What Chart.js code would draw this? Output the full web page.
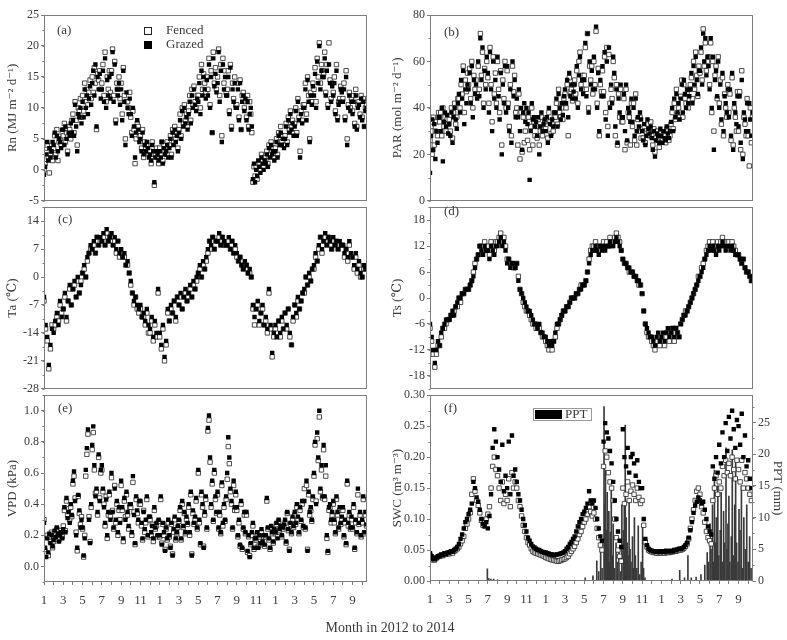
<!DOCTYPE html>
<html>
<head>
<meta charset="utf-8">
<script src="https://cdn.jsdelivr.net/npm/chart.js@4.4.1/dist/chart.umd.min.js"></script>
<style>
html,body{margin:0;padding:0;background:#fff;}
#wrap{position:relative;width:787px;height:640px;overflow:hidden;background:#fff;}
#wrap canvas{position:absolute;}
#xtitle{position:absolute;left:0;top:620px;width:780px;text-align:center;font-size:14px;font-family:'Liberation Serif','DejaVu Serif',serif;color:#3a3a3a;}
</style>
</head>
<body>
<div id="wrap">
<canvas id="ca" width="372" height="210" style="left:0;top:0"></canvas>
<canvas id="cb" width="372" height="210" style="left:386px;top:0"></canvas>
<canvas id="cc" width="372" height="200" style="left:0;top:198px"></canvas>
<canvas id="cd" width="372" height="200" style="left:386px;top:198px"></canvas>
<canvas id="ce" width="372" height="254" style="left:0;top:386px"></canvas>
<canvas id="cf" width="401" height="254" style="left:386px;top:386px"></canvas>
<div id="xtitle">Month in 2012 to 2014</div>
</div>
<script>
// ---------------- data (months from 1 Jan 2012) ----------------
const STEP = 1 / 6;        // Ta, Ts, SWC sampled every 1/6 month (~5 days)
const STEP_DENSE = 1 / 9;  // Rn, PAR, VPD sampled every 1/9 month (~3.4 days)
const X_MAX = 33.5;
const monthTickLabels = ['1','2','3','4','5','6','7','8','9','10','11','12'];
const rnTicks = [-5, 0, 5, 10, 15, 20, 25];
const parTicks = [0, 20, 40, 60, 80];
const taTicks = [-28, -21, -14, -7, 0, 7, 14];
const tsTicks = [-18, -12, -6, 0, 6, 12, 18];
const vpdTicks = [0, 0.2, 0.4, 0.6, 0.8, 1.0];
const swcTicks = [0, 0.05, 0.10, 0.15, 0.20, 0.25, 0.30];
const pptTicks = [0, 5, 10, 15, 20, 25];

const rnGrazed = [-0.8,0.5,2.5,4.5,1.5,3.5,2,3,4.5, 4,6,2,5.5,3,5,4.5,3.5,6.5, 6.5,4,7,5,2.5,6,5.5,7.5,6, 8,5.5,10.5,7,3,9,8.5,10,7.5, 11,8.5,13,10,12,9,11.5,13.5,10.5, 14,16,12,17,7,15,13,15.5,11.5, 13,16,11,18,10,14.5,12,15,11.5, 15.5,19,11,17,7.5,13,12,14,10.5, 13,8,16,11,4,12.5,10,9,11.5, 9,5.5,10,7,2,6,8,6.5,4.5, 5,3,6,2.5,4,3,4.5,3.5,2, 2.5,1.5,4,3,-2,2,3,2.5,1.5, 3,2,4.5,1,3.5,2.5,3,4,2, 3.5,5,2,6,4,6.5,4.5,5.5,3, 6,8,5,9.5,7,10,7.5,8.5,6.5, 9,11,7.5,12,10,13,10.5,9.5,11.5, 11,14,9,16,12,15,13,11.5,14.5, 12,17,10,15,6,18,13.5,15.5,12.5, 14,19,11,16,4.5,17,13,15,12, 12,15,9,16.5,6.5,13,11,14,10, 10,13,8,14,6.5,11,12,9.5,11.5, 8,11,6.5,9,10,7,-1.5,1,-2, 0,-1,1.5,0.5,-0.5,2,1,0,1.5, 1,2.5,0.5,3.5,2,4,2.5,3,1.5, 3,4.5,2,5.5,4,6,4,5,3.5, 5,7,4,8,6,9,6.5,7.5,5.5, 7,9.5,5.5,11,8,2,9,7.5,10, 10,13,8,14.5,11,4.5,12,10.5,13.5, 12,15.5,10,17.5,14,20,13,16,15, 15,18,12,16,10,17,14,11,13.5, 12,14,9,16,8,10.5,11,13,12.5, 11,13,8,15,4,10,12,9.5,11, 9,11,7,12,6.5,10,10.5,8.5,11.5, 8,11,7,9.5,10];
const rnFenced = [0,1,3.5,4,2,-0.5,2.5,3,1.5, 3.5,5.5,2.5,6.5,1.5,4.5,5,4,6, 5.5,7.5,4.5,6,3,7,6.5,5,8, 9,6,11,8,4,10,9.5,11.5,8.5, 12,9.5,14,11,13,10.5,12.5,14.5,11.5, 15,12.5,16.5,14,6.5,15.5,14.5,16,13, 14,17,12,19,11,15,13,16,12.5, 16,19.5,12,17.5,8,14,13,15,11.5, 14,9,16.5,12,5,11,11,10,12.5, 8.5,6,9.5,6.5,1,5,7.5,7,5.5, 5.5,3.5,6.5,2,4.5,3.5,4,3,2.5, 3,1,4.5,2.5,-2.5,2.5,3.5,2,1, 3.5,2.5,4.5,1.5,4,3,2.5,4.5,2.5, 4,5.5,2.5,6.5,4.5,7,5,6,3.5, 6.5,9,5.5,10,7.5,10.5,8,9,7, 9.5,12,8,13,10.5,13.5,11,10,12, 12,15,10,17,13,15.5,14,12.5,15, 13,18,10.5,16,6,19,14,16.5,13, 15,19.5,12,17,5.5,18,14,16,12.5, 13,16,9.5,17,7,14,11.5,15,10.5, 10.5,14,8.5,14.5,6.5,12,12.5,10,11, 8.5,12,7,11,9,6,-2,0.5,-1, 0.5,-1.5,1,1,0,2.5,1.5,0.5,2, 1.5,3,1,4,2.5,4.5,3,3.5,2, 3.5,5,2.5,6,4.5,7,4.5,5.5,4, 5.5,7.5,4.5,8.5,6.5,9.5,7,8,6, 7.5,10,6,11.5,8.5,3,9.5,8,10.5, 10.5,14,9,15,12,5,12.5,11,14, 13,16.5,11,18,15,20.5,14,17,16, 15.5,19,12.5,17,10.5,20.5,14.5,11.5,14, 12.5,15,9.5,17,8.5,11,11.5,13.5,13, 11.5,14,8.5,16,5,10.5,12.5,10,11.5, 9.5,12,7.5,13,7,10.5,11,9,12, 8.5,11.5,7,10,10.5];

const parGrazed = [12,28,35,22,33,18,30,25,36, 36,30,40,17,34,38,32,37,29, 33,28,38,25,36,40,35,31,42, 46,38,52,44,56,33,48,42,50, 48,55,42,58,36,52,46,50,44, 60,45,70,52,66,40,56,48,62, 55,38,64,48,30,60,44,52,40, 62,45,35,55,20,50,42,58,38, 58,40,30,48,25,60,45,52,36, 44,36,48,30,40,22,38,42,34, 40,33,38,9,30,42,35,36,32, 34,28,36,20,32,38,30,33,35, 30,36,25,40,33,28,35,32,38, 38,44,32,46,40,35,42,37,45, 48,42,52,36,55,45,50,44,47, 50,44,58,40,54,62,48,52,46, 52,68,45,72,38,60,50,56,48, 62,48,75,40,55,30,52,45,58, 45,64,35,60,28,66,40,50,42, 62,55,32,48,25,44,38,50,36, 36,46,30,50,26,40,38,34,44, 34,40,28,44,30,36,32,38,35, 30,26,33,24,28,35,31,29,32, 27,22,30,19,26,29,28,25,31, 28,25,30,27,26,32,29,27,30, 34,40,30,44,36,46,38,42,35, 44,50,38,52,46,40,48,42,45, 48,55,42,58,50,62,52,46,56, 56,66,50,72,60,70,54,62,58, 48,70,40,62,22,52,56,45,60, 40,50,35,55,30,45,42,38,48, 36,48,28,55,22,42,38,33,45, 32,45,25,52,18,38,35,30,42, 30,42,35,28,38];
const parFenced = [26,32,20,36,24,30,34,28,38, 34,38,28,40,32,36,30,35,33, 35,30,40,27,38,42,33,36,44, 44,40,50,46,58,38,52,47,55, 50,57,44,60,40,54,48,52,46, 58,48,72,54,64,42,57,50,60, 53,42,66,50,34,62,46,55,42, 60,48,38,56,24,52,44,60,40, 56,42,32,50,28,58,47,54,38, 40,24,46,18,38,21,36,25,30, 38,26,36,22,32,40,24,34,28, 32,27,35,24,30,36,28,31,34, 31,35,27,38,34,29,33,30,36, 36,42,33,48,38,36,40,35,44, 46,40,50,28,53,47,48,43,50, 52,46,56,42,60,64,50,54,48, 54,66,48,72,40,58,52,58,46, 60,50,73,42,57,28,50,47,56, 47,62,38,66,32,63,42,48,44, 60,53,28,50,24,46,36,48,34, 34,44,22,48,25,38,36,24,42, 32,42,26,46,24,35,30,36,27, 31,27,32,25,29,33,30,28,34, 28,24,31,21,27,30,26,23,29, 27,26,29,28,25,31,30,26,28, 33,38,31,42,35,48,37,40,36, 45,52,36,50,44,42,46,40,48, 50,53,44,60,48,64,54,45,58, 55,64,52,74,58,68,56,60,62, 50,68,38,60,30,54,58,44,62, 42,52,33,53,28,46,40,36,50, 38,46,26,53,24,40,36,30,47, 30,47,22,56,20,36,33,28,44, 28,15,40,25,36];

const taGrazed = [-5,-12,-15,-22,-17,-13, -14,-11,-9,-12,-6,-10, -8,-4,-10,-6,-2,-7, -3,-1,-5,0,-4,-2, 1,3,0,5,6,8, 7,9,6,10,8,10, 9,11,8,12,9,10, 11,8,10,7,9,6, 7,5,6,3,4,1, -1,-4,-6,-5,-7,-8, -7,-10,-9,-11,-8,-12, -13,-10,-15,-11,-14,-3, -14,-17,-12,-20,-16,-8, -11,-7,-9,-6,-10,-5, -7,-4,-8,-5,-3,-6, -4,-2,-5,-1,-3,0, 1,3,0,4,2,5, 7,9,8,10,7,9, 9,11,8,10,9,8, 8,10,7,9,6,8, 6,4,5,3,2,4, 3,1,2,0,-7,-10, -8,-6,-11,-9,-7,-12, -10,-13,-3,-12,-19,-14, -12,-15,-11,-14,-10,-13, -9,-12,-8,-14,-17,-10, -7,-9,-5,-8,-6,-4, -3,0,-2,1,-1,2, 3,6,4,8,10,7, 9,11,8,10,9,7, 10,8,9,7,9,8, 8,6,7,5,9,6, 5,3,6,2,4,1, 0,3,2];
const taFenced = [-6,-13,-16,-23,-18,-12, -13,-12,-10,-11,-7,-9, -8,-5,-11,-6,-3,-7, -3,-2,-5,-1,-4,-1, 1,2,0,4,6,7, 7,8,6,10,8,9, 9,10,8,11,9,10, 10,8,9,6,9,5, 6,5,5,3,3,1, -2,-4,-7,-5,-8,-9, -8,-10,-10,-12,-9,-14, -14,-11,-16,-12,-15,-4, -15,-18,-13,-21,-17,-9, -11,-8,-9,-6,-11,-5, -7,-5,-8,-5,-4,-6, -4,-3,-5,-2,-3,-1, 1,2,0,3,2,4, 6,9,7,10,7,9, 9,10,8,10,8,8, 8,9,7,9,6,7, 5,4,5,3,2,3, 3,1,1,0,-8,-12, -8,-7,-12,-9,-8,-12, -11,-14,-4,-13,-20,-15, -13,-15,-11,-15,-11,-13, -9,-13,-8,-15,-17,-11, -7,-10,-6,-8,-6,-4, -4,0,-2,0,-1,2, 2,5,4,7,10,6, 9,10,8,10,9,7, 9,8,9,7,8,8, 8,5,7,4,8,5, 5,2,5,1,3,0, 0,2,2];

const tsGrazed = [-6,-9,-12,-15,-12,-10, -11,-8,-7,-6,-5,-5, -5,-4,-3,-4,-2,-1, 0,0,1,1,2,2, 2,3,4,5,7,9, 10,12,11,10,12,11, 11,9,12,11,10,12, 12,13,14,12,13,11, 8,9,7,8,8,7, 8,4,2,1,0,-1, -2,-3,-3,-4,-5,-6, -6,-7,-6,-8,-8,-9, -9,-10,-11,-10,-11,-10, -8,-6,-6,-5,-4,-3, -3,-2,-2,-1,0,0, 0,1,1,2,2,3, 3,4,6,8,10,11, 11,12,11,10,12,11, 12,11,12,12,13,12, 12,13,14,13,12,11, 9,8,8,7,7,6, 6,5,5,4,4,3, 1,-3,-6,-7,-8,-9, -9,-10,-11,-9,-8,-10, -9,-8,-10,-8,-7,-9, -8,-7,-9,-7,-8,-9, -6,-5,-4,-4,-3,-2, -1,0,1,2,3,4, 5,6,7,9,10,11, 12,11,12,11,10,12, 11,12,13,12,11,12, 12,11,12,11,10,10, 10,9,8,9,7,6, 6,5,4];
const tsFenced = [-7,-10,-13,-16,-13,-11, -11,-9,-7,-7,-6,-5, -5,-4,-4,-3,-2,-2, 0,-1,1,1,2,2, 2,3,4,6,8,9, 10,12,12,11,13,11, 12,10,13,12,11,13, 13,14,15,13,14,12, 9,9,8,8,7,7, 8,5,2,1,-1,-2, -3,-3,-4,-5,-6,-6, -7,-7,-7,-8,-9,-9, -10,-11,-12,-11,-12,-10, -9,-7,-6,-5,-4,-3, -3,-2,-2,-1,0,0, 0,1,1,2,3,3, 3,4,6,9,11,12, 12,13,12,11,12,12, 13,12,13,12,14,13, 13,14,15,14,13,11, 9,8,8,7,6,6, 6,5,5,4,3,3, 1,-3,-6,-8,-9,-9, -10,-11,-12,-10,-9,-11, -10,-9,-11,-9,-8,-10, -8,-7,-10,-7,-8,-9, -6,-5,-4,-3,-3,-2, -1,0,1,2,3,5, 5,7,8,9,11,12, 13,12,13,12,11,13, 12,13,14,13,12,13, 13,12,13,12,11,10, 10,9,8,9,7,6, 6,5,4];

const vpdGrazed = [0.28,0.12,0.06,0.18,0.09,0.21,0.15,0.2,0.13, 0.17,0.23,0.19,0.25,0.21,0.16,0.2,0.22,0.18, 0.24,0.38,0.22,0.44,0.31,0.35,0.28,0.4,0.33, 0.55,0.61,0.42,0.2,0.12,0.46,0.36,0.25,0.3, 0.25,0.07,0.18,0.62,0.76,0.88,0.3,0.15,0.4, 0.78,0.9,0.65,0.45,0.5,0.35,0.72,0.42,0.62, 0.65,0.5,0.38,0.28,0.43,0.2,0.35,0.48,0.3, 0.6,0.35,0.25,0.5,0.3,0.42,0.22,0.38,0.28, 0.55,0.38,0.18,0.44,0.3,0.48,0.35,0.26,0.4, 0.4,0.22,0.58,0.33,0.15,0.45,0.36,0.3,0.42, 0.42,0.28,0.18,0.35,0.24,0.3,0.45,0.2,0.32, 0.32,0.22,0.26,0.18,0.38,0.25,0.28,0.2,0.3, 0.2,0.45,0.14,0.28,0.22,0.1,0.25,0.18,0.3, 0.2,0.12,0.28,0.07,0.24,0.32,0.18,0.22,0.26, 0.3,0.38,0.18,0.42,0.26,0.35,0.22,0.32,0.28, 0.4,0.22,0.48,0.07,0.36,0.28,0.32,0.44,0.25, 0.62,0.3,0.15,0.48,0.4,0.12,0.35,0.45,0.25, 0.89,0.97,0.7,0.4,0.55,0.3,0.62,0.45,0.35, 0.48,0.25,0.35,0.22,0.54,0.28,0.4,0.3,0.45, 0.6,0.83,0.7,0.5,0.42,0.25,0.55,0.38,0.48, 0.38,0.2,0.3,0.14,0.42,0.12,0.25,0.35,0.22, 0.35,0.1,0.2,0.06,0.15,0.22,0.28,0.12,0.18, 0.18,0.22,0.12,0.2,0.15,0.24,0.16,0.2,0.14, 0.2,0.44,0.25,0.18,0.12,0.26,0.22,0.16,0.24, 0.22,0.28,0.18,0.3,0.24,0.26,0.2,0.25,0.27, 0.3,0.16,0.35,0.24,0.1,0.28,0.22,0.32,0.26, 0.35,0.28,0.4,0.32,0.22,0.38,0.3,0.42,0.26, 0.42,0.25,0.55,0.1,0.48,0.35,0.38,0.3,0.45, 0.6,0.8,0.4,0.86,0.7,1.0,0.5,0.65,0.45, 0.78,0.45,0.65,0.2,0.1,0.38,0.4,0.3,0.35, 0.42,0.3,0.22,0.45,0.35,0.25,0.38,0.28,0.32, 0.38,0.2,0.3,0.15,0.55,0.28,0.35,0.25,0.32, 0.25,0.4,0.12,0.3,0.22,0.5,0.28,0.35,0.2, 0.3,0.45,0.22,0.35,0.27];
const vpdFenced = [0.3,0.1,0.08,0.2,0.07,0.19,0.16,0.22,0.12, 0.16,0.22,0.2,0.24,0.19,0.17,0.21,0.23,0.19, 0.26,0.36,0.23,0.42,0.33,0.37,0.3,0.38,0.32, 0.53,0.58,0.44,0.22,0.1,0.45,0.34,0.27,0.32, 0.24,0.06,0.2,0.58,0.72,0.85,0.32,0.16,0.38, 0.75,0.86,0.62,0.47,0.48,0.33,0.7,0.44,0.6, 0.62,0.48,0.4,0.26,0.45,0.18,0.33,0.46,0.32, 0.57,0.36,0.24,0.52,0.28,0.4,0.2,0.36,0.3, 0.52,0.36,0.16,0.42,0.32,0.46,0.33,0.24,0.38, 0.38,0.2,0.54,0.35,0.14,0.43,0.34,0.28,0.4, 0.4,0.26,0.17,0.36,0.22,0.28,0.43,0.19,0.3, 0.3,0.2,0.27,0.16,0.36,0.24,0.26,0.19,0.29, 0.19,0.43,0.15,0.27,0.2,0.11,0.24,0.17,0.28, 0.19,0.13,0.27,0.08,0.22,0.3,0.17,0.21,0.25, 0.29,0.36,0.17,0.4,0.25,0.34,0.21,0.3,0.27, 0.38,0.2,0.46,0.08,0.34,0.27,0.3,0.42,0.24, 0.6,0.28,0.14,0.46,0.38,0.13,0.33,0.43,0.24, 0.87,0.94,0.67,0.38,0.53,0.29,0.6,0.43,0.34, 0.46,0.24,0.33,0.21,0.52,0.26,0.38,0.29,0.43, 0.56,0.77,0.66,0.48,0.4,0.24,0.52,0.36,0.46, 0.36,0.19,0.28,0.13,0.4,0.11,0.24,0.33,0.21, 0.33,0.09,0.19,0.07,0.14,0.2,0.26,0.11,0.17, 0.17,0.21,0.13,0.19,0.14,0.22,0.15,0.19,0.13, 0.19,0.42,0.24,0.17,0.11,0.25,0.21,0.15,0.23, 0.21,0.27,0.19,0.29,0.23,0.25,0.19,0.24,0.26, 0.28,0.15,0.34,0.23,0.11,0.27,0.21,0.3,0.25, 0.33,0.27,0.38,0.3,0.21,0.36,0.29,0.4,0.25, 0.5,0.24,0.52,0.11,0.46,0.33,0.36,0.29,0.43, 0.58,0.78,0.42,0.82,0.68,0.96,0.48,0.62,0.44, 0.75,0.43,0.58,0.18,0.09,0.36,0.38,0.28,0.33, 0.4,0.28,0.21,0.43,0.33,0.24,0.36,0.27,0.3, 0.36,0.19,0.28,0.14,0.53,0.26,0.33,0.24,0.3, 0.24,0.38,0.11,0.28,0.21,0.46,0.27,0.33,0.19, 0.28,0.43,0.21,0.33,0.26];

const swcGrazed = [0.045,0.040,0.036,0.035,0.038,0.040, 0.041,0.043,0.042,0.045,0.044,0.046, 0.046,0.048,0.047,0.050,0.052,0.055, 0.060,0.068,0.075,0.085,0.095,0.100, 0.108,0.115,0.125,0.160,0.150,0.135, 0.128,0.115,0.100,0.092,0.088,0.095, 0.085,0.105,0.140,0.215,0.245,0.225, 0.200,0.180,0.160,0.220,0.145,0.170, 0.150,0.225,0.140,0.235,0.170,0.180, 0.160,0.140,0.130,0.115,0.100,0.090, 0.080,0.070,0.065,0.060,0.056,0.054, 0.052,0.050,0.050,0.048,0.047,0.046, 0.046,0.045,0.044,0.043,0.043,0.042, 0.042,0.043,0.043,0.044,0.045,0.046, 0.048,0.052,0.055,0.060,0.063,0.068, 0.072,0.080,0.088,0.095,0.100,0.108, 0.112,0.118,0.125,0.145,0.130,0.125, 0.130,0.118,0.100,0.085,0.072,0.065, 0.225,0.255,0.240,0.230,0.210,0.190, 0.160,0.130,0.100,0.080,0.065,0.055, 0.245,0.200,0.185,0.215,0.175,0.200, 0.205,0.190,0.170,0.195,0.160,0.150, 0.150,0.100,0.068,0.058,0.052,0.050, 0.049,0.048,0.048,0.047,0.047,0.048, 0.047,0.048,0.047,0.049,0.048,0.048, 0.049,0.048,0.050,0.050,0.051,0.052, 0.052,0.053,0.055,0.058,0.062,0.070, 0.082,0.095,0.110,0.122,0.128,0.135, 0.130,0.125,0.128,0.115,0.100,0.088, 0.080,0.075,0.185,0.165,0.200,0.175, 0.220,0.190,0.240,0.200,0.255,0.210, 0.265,0.230,0.275,0.245,0.215,0.260, 0.250,0.220,0.270,0.200,0.235,0.185, 0.195,0.165,0.150];
const swcFenced = [0.042,0.038,0.034,0.034,0.037,0.039, 0.040,0.041,0.041,0.043,0.043,0.044, 0.044,0.046,0.045,0.048,0.050,0.052, 0.055,0.060,0.065,0.072,0.085,0.092, 0.100,0.110,0.140,0.165,0.145,0.130, 0.122,0.110,0.098,0.090,0.095,0.100, 0.108,0.120,0.150,0.185,0.200,0.180, 0.170,0.150,0.130,0.160,0.125,0.140, 0.130,0.165,0.120,0.175,0.150,0.160, 0.150,0.130,0.120,0.105,0.090,0.080, 0.070,0.062,0.058,0.052,0.048,0.046, 0.045,0.044,0.043,0.042,0.041,0.040, 0.038,0.037,0.036,0.035,0.034,0.034, 0.033,0.032,0.032,0.033,0.034,0.035, 0.036,0.038,0.040,0.044,0.048,0.052, 0.056,0.062,0.068,0.075,0.080,0.088, 0.095,0.100,0.108,0.120,0.112,0.105, 0.110,0.100,0.085,0.070,0.058,0.050, 0.185,0.210,0.200,0.175,0.160,0.150, 0.130,0.100,0.070,0.050,0.040,0.032, 0.150,0.125,0.140,0.160,0.130,0.145, 0.155,0.140,0.130,0.150,0.135,0.125, 0.130,0.090,0.063,0.055,0.050,0.048, 0.047,0.046,0.046,0.045,0.045,0.046, 0.045,0.046,0.045,0.046,0.046,0.046, 0.047,0.047,0.048,0.048,0.049,0.050, 0.050,0.051,0.053,0.056,0.060,0.068, 0.085,0.100,0.115,0.130,0.145,0.150, 0.140,0.120,0.110,0.095,0.080,0.070, 0.065,0.060,0.130,0.150,0.170,0.140, 0.160,0.150,0.185,0.170,0.195,0.175, 0.190,0.170,0.200,0.180,0.165,0.195, 0.180,0.160,0.195,0.150,0.175,0.165, 0.150,0.140,0.130];

// daily precipitation events: month position (0 = 1 Jan 2012) and amount (mm)
const pptMonth = [5.95,6.1,6.3,6.6,7.0, 16.1,16.9,17.3,17.5,17.7,17.85,18.05,18.12,18.2,18.3,18.38,18.45,18.55,18.62,18.7,18.8,18.9,19.0,19.15,19.3,19.45,19.6,19.75,19.9,20.05,20.15,20.25,20.35,20.45,20.55,20.65,20.75,20.85,21.0,21.1,21.2,21.3,21.45,21.6,21.75,21.9,22.05,22.15,22.3, 25.1,25.9,26.4,26.75,27.1,27.6,28.1,28.5,28.75,28.9,29.05,29.15,29.3,29.4,29.5,29.6,29.7,29.85,29.95,30.1,30.2,30.3,30.45,30.55,30.7,30.8,30.9,31.0,31.1,31.25,31.35,31.5,31.6,31.7,31.8,31.95,32.05,32.15,32.3,32.4,32.55,32.7,32.85,33.0,33.15,33.3];
const pptMm = [1.9,0.4,0.3,0.3,0.2, 0.5,0.8,3.2,1.5,5.0,2.0,27.5,12,17.5,8,14,5,11,3,7.7,15,4,9,2,6,3,5,1.5,12,8,12,24.6,10,6,4,13,5,3,7,2,10,4,2,8.7,1,3,8.5,2,0.5, 0.3,1.7,0.5,4,0.5,0.6,1.0,2.5,4.5,3,9,5,12,3,17.5,6,10,15,4,8,14,3,11,6,21,5,9,13.4,3,7,20.7,4,12,19,6,3,11.3,8,15,2,10,5,12,3,7,2];

// ---------------- styling helpers ----------------
const FONT = "'Liberation Serif','Times New Roman','DejaVu Serif',serif";
const TXT = '#3a3a3a';
const LINE = '#7d7d7d';

function toPoints(values, step) { return values.map((v, i) => ({ x: i * step, y: v })); }

function squares(label, values, step, filled, axis) {
  return {
    type: 'scatter', label, data: toPoints(values, step), yAxisID: axis || 'y',
    pointStyle: 'rect', pointRadius: 3.1, pointHoverRadius: 3.1,
    backgroundColor: filled ? '#000' : '#fff',
    borderColor: filled ? '#000' : '#222',
    borderWidth: filled ? 0 : 0.8,
    order: filled ? 1 : 2
  };
}

const decoPlugin = {
  id: 'deco',
  afterDraw(chart, args, o) {
    const ctx = chart.ctx, a = chart.chartArea;
    ctx.save();
    ctx.strokeStyle = LINE; ctx.lineWidth = 1;
    const L = Math.round(a.left) + 0.5, T = Math.round(a.top) + 0.5;
    const R = Math.round(a.right) - 0.5, B = Math.round(a.bottom) - 0.5;
    ctx.strokeRect(L, T, R - L, B - T);
    (o.minor || []).forEach(m => {
      const s = chart.scales[m.id];
      const first = Math.ceil(s.min / m.step - 1e-9);
      for (let k = first; k * m.step <= s.max + 1e-9; k++) {
        const py = Math.round(s.getPixelForValue(k * m.step)) + 0.5;
        ctx.beginPath();
        if (m.side === 'right') { ctx.moveTo(R, py); ctx.lineTo(R + 2, py); }
        else { ctx.moveTo(L, py); ctx.lineTo(L - 2, py); }
        ctx.stroke();
      }
    });
    (o.items || []).forEach(it => {
      if (it.t === 'text') {
        ctx.fillStyle = TXT; ctx.font = (it.size || 13) + 'px ' + FONT;
        ctx.textAlign = it.align || 'left'; ctx.textBaseline = 'middle';
        ctx.fillText(it.s, it.x, it.y);
      } else if (it.t === 'box') {
        if (it.fill) { ctx.fillStyle = it.fill; ctx.fillRect(it.x, it.y, it.w, it.h); }
        if (it.stroke) { ctx.strokeStyle = it.stroke; ctx.lineWidth = 1; ctx.strokeRect(it.x + 0.5, it.y + 0.5, it.w - 1, it.h - 1); }
      }
    });
    ctx.restore();
  }
};

function yAxis(o) {
  return {
    type: 'linear', position: o.pos || 'left', min: o.min, max: o.max,
    afterBuildTicks: s => { s.ticks = o.ticks.map(v => ({ value: v })); },
    afterFit: s => { s.width = o.width || 44; },
    ticks: { color: TXT, font: { family: FONT, size: 12 }, padding: 2, autoSkip: false,
             callback: v => o.dec !== undefined ? Number(v).toFixed(o.dec) : String(v) },
    grid: { drawOnChartArea: false, drawTicks: true, tickLength: 3, color: LINE },
    border: { display: false },
    title: { display: true, text: o.title, color: TXT, font: { family: FONT, size: 13 },
             padding: { top: o.tpad, bottom: 0 } }
  };
}

function xAxis(show, height) {
  return {
    type: 'linear', min: 0, max: X_MAX, display: show, offset: false,
    afterBuildTicks: s => { const t = []; for (let m = 0; m <= Math.floor(X_MAX); m++) t.push({ value: m }); s.ticks = t; },
    afterFit: s => { if (show) s.height = height; },
    ticks: { autoSkip: false, maxRotation: 0, minRotation: 0, color: TXT, font: { family: FONT, size: 13 }, padding: 8,
             callback: v => (v % 2 === 0) ? monthTickLabels[v % 12] : '' },
    grid: { offset: false, drawOnChartArea: false, drawTicks: true, tickLength: 3, color: LINE },
    border: { display: false }
  };
}

function panel(id, datasets, scales, pad, deco) {
  return new Chart(document.getElementById(id), {
    type: 'scatter',
    data: { datasets },
    options: {
      responsive: false, animation: false, devicePixelRatio: 1, events: [],
      layout: { padding: pad },
      scales,
      plugins: { legend: { display: false }, tooltip: { enabled: false }, deco }
    },
    plugins: [decoPlugin]
  });
}

// (a) Rn
panel('ca',
  [squares('Fenced', rnFenced, STEP_DENSE, false), squares('Grazed', rnGrazed, STEP_DENSE, true)],
  { x: xAxis(false), y: yAxis({ min: -5, max: 25, ticks: rnTicks, title: 'Rn (MJ m⁻² d⁻¹)', tpad: 5 }) },
  { top: 15, bottom: 6, left: 0, right: 5 },
  { minor: [{ id: 'y', step: 2.5 }], items: [
    { t: 'text', s: '(a)', x: 57, y: 31 },
    { t: 'box', x: 144, y: 27, w: 8, h: 8, fill: '#fff', stroke: '#222' },
    { t: 'text', s: 'Fenced', x: 166, y: 31 },
    { t: 'box', x: 144, y: 41, w: 8, h: 8, fill: '#000' },
    { t: 'text', s: 'Grazed', x: 166, y: 45 }
  ] });

// (b) PAR
panel('cb',
  [squares('Fenced', parFenced, STEP_DENSE, false), squares('Grazed', parGrazed, STEP_DENSE, true)],
  { x: xAxis(false), y: yAxis({ min: 0, max: 80, ticks: parTicks, title: 'PAR (mol m⁻² d⁻¹)', tpad: 4 }) },
  { top: 15, bottom: 6, left: 0, right: 5 },
  { minor: [{ id: 'y', step: 10 }], items: [{ t: 'text', s: '(b)', x: 58, y: 33 }] });

// (c) Ta
panel('cc',
  [squares('Fenced', taFenced, STEP, false), squares('Grazed', taGrazed, STEP, true)],
  { x: xAxis(false), y: yAxis({ min: -28, max: 17.5, ticks: taTicks, title: 'Ta (℃)', tpad: 5 }) },
  { top: 6, bottom: 6, left: 0, right: 5 },
  { minor: [{ id: 'y', step: 3.5 }], items: [{ t: 'text', s: '(c)', x: 58, y: 22 }] });

// (d) Ts
panel('cd',
  [squares('Fenced', tsFenced, STEP, false), squares('Grazed', tsGrazed, STEP, true)],
  { x: xAxis(false), y: yAxis({ min: -21, max: 21, ticks: tsTicks, title: 'Ts (℃)', tpad: 4 }) },
  { top: 6, bottom: 6, left: 0, right: 5 },
  { minor: [{ id: 'y', step: 3 }], items: [{ t: 'text', s: '(d)', x: 58, y: 14 }] });

// (e) VPD
panel('ce',
  [squares('Fenced', vpdFenced, STEP_DENSE, false), squares('Grazed', vpdGrazed, STEP_DENSE, true)],
  { x: xAxis(true, 58), y: yAxis({ min: -0.1, max: 1.1, ticks: vpdTicks, dec: 1, title: 'VPD (kPa)', tpad: 5 }) },
  { top: 6, bottom: 0, left: 0, right: 5 },
  { minor: [{ id: 'y', step: 0.1 }], items: [{ t: 'text', s: '(e)', x: 58, y: 22.5 }] });

// (f) SWC + PPT
panel('cf',
  [
    { type: 'bar', label: 'PPT', data: pptMonth.map((m, i) => ({ x: m, y: pptMm[i] })), yAxisID: 'y2',
      backgroundColor: '#3a3a3a', barThickness: 1, order: 3 },
    squares('Fenced', swcFenced, STEP, false), squares('Grazed', swcGrazed, STEP, true)
  ],
  {
    x: xAxis(true, 59),
    y: yAxis({ min: 0, max: 0.30, ticks: swcTicks, dec: 2, title: 'SWC (m³ m⁻³)', tpad: 4 }),
    y2: yAxis({ pos: 'right', min: 0, max: 29.3, ticks: pptTicks, width: 34, title: 'PPT (mm)', tpad: 2 })
  },
  { top: 7, bottom: 0, left: 0, right: 0 },
  { minor: [{ id: 'y', step: 0.025 }, { id: 'y2', step: 2.5, side: 'right' }], items: [
    { t: 'text', s: '(f)', x: 58, y: 22.5 },
    { t: 'box', x: 147, y: 22, w: 59, h: 13, fill: '#fff', stroke: '#999' },
    { t: 'box', x: 149, y: 24, w: 27, h: 9, fill: '#000' },
    { t: 'text', s: 'PPT', x: 179, y: 28.5 }
  ] });
</script>
</body>
</html>
